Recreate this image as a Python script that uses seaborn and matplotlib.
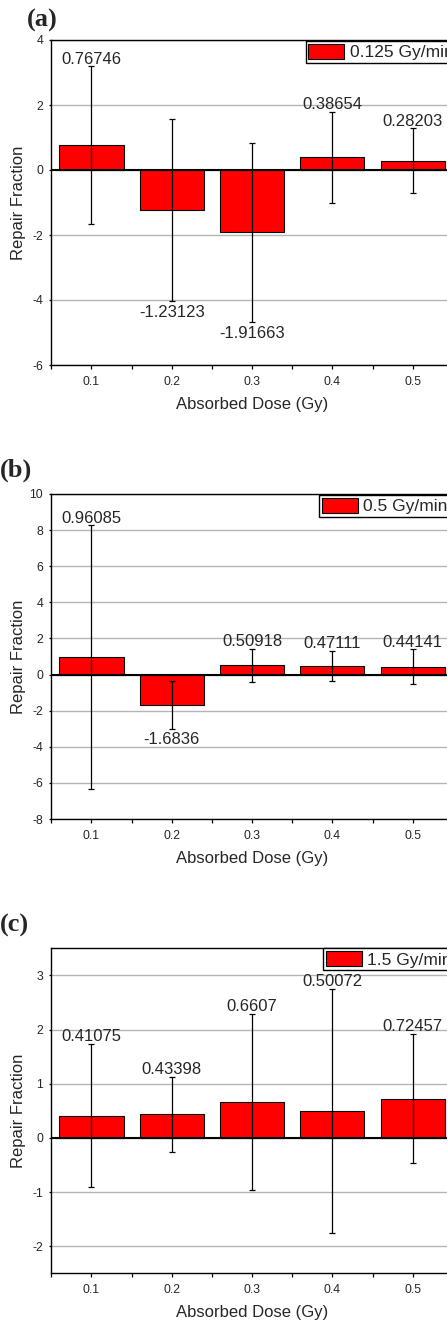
import numpy as np
import pandas as pd
import seaborn as sns
import matplotlib
matplotlib.use("Agg")
import matplotlib.pyplot as plt
from matplotlib.patches import Patch
from matplotlib.ticker import MultipleLocator, FixedLocator

# ---------------- data ----------------
doses = [0.1, 0.2, 0.3, 0.4, 0.5]

labels_a = ["0.76746", "-1.23123", "-1.91663", "0.38654", "0.28203"]
vals_a = [0.76746, -1.23123, -1.91663, 0.38654, 0.28203]
errs_a = [2.42, 2.81, 2.76, 1.41, 1.00]

labels_b = ["0.96085", "-1.6836", "0.50918", "0.47111", "0.44141"]
vals_b = [0.96085, -1.6836, 0.50918, 0.47111, 0.44141]
errs_b = [7.30, 1.31, 0.92, 0.83, 0.95]

labels_c = ["0.41075", "0.43398", "0.6607", "0.50072", "0.72457"]
vals_c = [0.41075, 0.43398, 0.6607, 0.50072, 0.72457]
errs_c = [1.32, 0.695, 1.63, 2.25, 1.19]

rates = ["0.125 Gy/min", "0.5 Gy/min", "1.5 Gy/min"]
panel_tags = ["(a)", "(b)", "(c)"]
ylims = [(-6, 4), (-8, 10), (-2.5, 3.5)]
ysteps = [2, 2, 1]

# ---------------- style ----------------
sns.set_style("white")
plt.rcParams["font.family"] = ["Liberation Sans", "DejaVu Sans"]
plt.rcParams["axes.unicode_minus"] = False

W, H = 447, 1324
fig = plt.figure(figsize=(W / 100, H / 100), dpi=100)

ax_left_px, ax_w_px, ax_h_px = 51.3, 401.5, 325
ax_bottom_px = [365, 819, 1273.3]
legend_x = [0.634, 0.667, 0.677]
legend_y = [0.997, 0.997, 1.0]
tag_pos = [(27, 20), (0, 470), (0, 925)]

panels = [
    (vals_a, errs_a, labels_a),
    (vals_b, errs_b, labels_b),
    (vals_c, errs_c, labels_c),
]

for i, (vals, errs, labs) in enumerate(panels):
    bottom = (H - ax_bottom_px[i]) / H
    ax = fig.add_axes([ax_left_px / W, bottom, ax_w_px / W, ax_h_px / H])
    df = pd.DataFrame({"dose": doses, "value": vals})
    sns.barplot(data=df, x="dose", y="value", native_scale=True, color="#ff0000",
                saturation=1, edgecolor="black", linewidth=0.8, errorbar=None,
                width=0.8, ax=ax, zorder=2)
    ax.errorbar(doses, vals, yerr=errs, fmt="none", ecolor="black",
                elinewidth=0.9, capsize=2, capthick=0.9, zorder=3)
    ax.axhline(0, color="black", lw=1.5, zorder=2.5)

    for x, v, e, t in zip(doses, vals, errs, labs):
        if v >= 0:
            ax.annotate(t, (x, v + e), xytext=(0, 2), textcoords="offset points",
                        ha="center", va="baseline", fontsize=12, zorder=4)
        else:
            ax.annotate(t, (x, v - e), xytext=(0, -11.2), textcoords="offset points",
                        ha="center", va="baseline", fontsize=12, zorder=4)

    ax.set_xlim(0.05, 0.55)
    ax.set_ylim(*ylims[i])
    ax.xaxis.set_major_locator(FixedLocator(doses))
    ax.xaxis.set_minor_locator(FixedLocator([0.05, 0.15, 0.25, 0.35, 0.45]))
    ax.set_xticklabels([str(d) for d in doses])
    ax.yaxis.set_major_locator(MultipleLocator(ysteps[i]))
    ax.tick_params(axis="x", which="both", direction="out", length=3, width=0.9,
                   color="black", labelsize=8.8, pad=5, bottom=True)
    ax.tick_params(axis="y", which="major", direction="out", length=1.8, width=0.9,
                   color="black", labelsize=8.8, pad=4, left=True)
    ax.yaxis.grid(True, color="#b4b4b4", lw=1.0)
    ax.xaxis.grid(False)
    ax.set_axisbelow(True)
    for s in ["left", "bottom", "top", "right"]:
        ax.spines[s].set_visible(True)
        ax.spines[s].set_color("black")
        ax.spines[s].set_linewidth(1.0)

    ax.set_xlabel("Absorbed Dose (Gy)", fontsize=12)
    ax.set_ylabel("Repair Fraction", fontsize=12)
    ax.xaxis.set_label_coords(0.5, -0.098)
    ax.yaxis.set_label_coords(-0.062, 0.5)

    handle = Patch(facecolor="#ff0000", edgecolor="black", linewidth=0.8, label=rates[i])
    leg = ax.legend(handles=[handle], loc="upper left",
                    bbox_to_anchor=(legend_x[i], legend_y[i]), borderaxespad=0,
                    fontsize=12.5, frameon=True, fancybox=False, framealpha=1,
                    edgecolor="black", handlelength=2.07, handleheight=0.98,
                    handletextpad=0.3, borderpad=0.15)
    leg.get_frame().set_linewidth(1.0)
    leg.set_zorder(5)

    tx, ty = tag_pos[i]
    fig.text(tx / W, 1 - ty / H, panel_tags[i], fontsize=19, fontweight="bold",
             family=["Liberation Serif", "DejaVu Serif"], ha="left", va="center")

fig.savefig("out.png", dpi=100)
